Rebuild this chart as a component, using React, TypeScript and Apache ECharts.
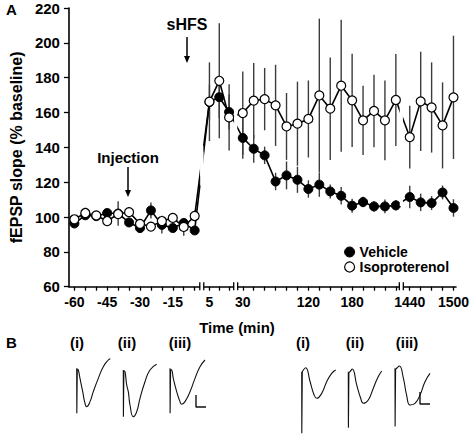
import { useEffect, useRef } from "react";
import * as echarts from "echarts";

// ---------- data ----------
const TIMES = [
  -60, -55, -50, -45, -40, -35, -30, -25, -20, -15, -10, -5,
  5, 10, 15,
  30, 45, 60, 75, 90, 105, 120, 135, 150, 165, 180, 195, 210, 225, 240,
  1440, 1455, 1470, 1485, 1500,
];
const VEHICLE_MEAN = [
  96.3, 101, 100.5, 102.3, 102, 96.9, 93.7, 103.8, 95.5, 93.7, 96.6, 92.3,
  166, 168.8, 160.3,
  145.4, 139.2, 135.4, 120.4, 123.9, 121.4, 116.1, 118.6, 114.7, 112.2, 106.5, 108.6, 106.1, 106.1, 106.7,
  111.5, 108.4, 108.0, 114.1, 105.2,
];
const VEHICLE_SEM = [
  2, 2, 2, 2, 7, 2, 2, 4.6, 5, 2, 2, 2,
  10, 12, 10,
  12, 8, 5, 5, 8, 7.5, 5, 7, 4, 5, 4, 3, 3, 4, 3,
  6.5, 5, 4, 4, 5,
];
const ISO_MEAN = [
  98.7, 102.3, 100.9, 97.7, 101.7, 102.8, 96.1, 94.5, 97.7, 99.5, 94.3, 100.6,
  166.2, 178.2, 157.2,
  159.7, 166.8, 167.7, 164.1, 152.0, 153.6, 156.3, 169.8, 162.2, 175.4, 167.0, 155.5, 160.9, 155.5, 167.2,
  145.9, 166.4, 162.9, 152.6, 168.7,
];
const ISO_SEM = [
  2, 3, 2, 2, 2, 3, 2, 2, 3, 2, 5, 3,
  22.6, 33, 19,
  23.9, 21.6, 17.9, 23.3, 19.2, 24.1, 22.1, 44.1, 29.4, 37.9, 26.8, 19.9, 20.8, 22.9, 26.4,
  18, 28.5, 25.9, 24.7, 35.4,
];
const X_TICK_TIMES = [
  -60, -55, -50, -45, -40, -35, -30, -25, -20, -15, -10, -5,
  5, 10, 15,
  30, 45, 60, 75, 90, 105, 120, 135, 150, 165, 180, 195, 210, 225, 240,
  1440, 1455, 1470, 1485, 1500,
];
const X_LABEL_TIMES = [-60, -45, -30, -15, 5, 30, 120, 180, 1440, 1500];
const Y_MIN = 60;
const Y_MAX = 220;
const Y_STEP = 20;

// Example fEPSP traces: [time (ms), potential (mV)]
const TRACE_ARTIFACTS = [
  [[0, 0.31], [0.05, -3.44], [0.3, 0.25]],
  [[0, 0.17], [0.05, -3.72], [0.3, 0.1]],
  [[0, 0.31], [0.05, -3.44], [0.3, 0.2]],
  [[0, 0.27], [0.05, -4.86], [0.3, 0.2]],
  [[0, 0.28], [0.05, -4.39], [0.3, 0.2]],
  [[0, 0.56], [0.05, -4.3], [0.3, 0.5]],
];
const TRACE_WAVES = [
  [[0.3, 0.25], [0.8, 0.17], [1.65, -0.53], [3, -1.64], [4.15, -2.61], [5, -2.89], [6.65, -2.47], [8.3, -1.64], [10.8, -0.53], [13.3, 0.44], [15.8, 1.0], [16.8, 1.1]],
  [[0.3, 0.1], [0.85, 0.03], [1.7, -1.08], [2.5, -1.64], [3.35, -2.75], [5, -3.72], [6.7, -3.31], [8.35, -2.19], [10.85, -0.81], [13.35, 0.17], [16.7, 0.64]],
  [[0.3, 0.2], [0.85, 0.17], [1.65, -0.53], [3.35, -1.64], [5, -2.47], [5.85, -2.69], [7.5, -2.47], [10, -1.64], [12.5, -0.53], [15, 0.44], [17.5, 1.0]],
  [[0.3, 0.2], [0.8, 0.42], [2, 0.61], [4.2, -0.56], [6.2, -1.67], [7.5, -1.94], [10, -1.53], [12.5, -0.56], [15, 0.14], [17, 0.42]],
  [[0.3, 0.2], [0.85, 0.28], [2, 0.5], [4.2, -0.83], [6.2, -1.94], [7.5, -2.36], [10, -2.08], [12.5, -1.1], [14.7, -0.22], [16.7, 0.33]],
  [[0.3, 0.5], [0.85, 0.56], [2.2, 0.75], [4.2, -0.28], [5.8, -1.67], [7.5, -2.5], [10, -2.36], [12.5, -1.67], [15, -0.56], [17.5, 0.14]],
];
const SCALE_MV = 1;
const SCALE_MS = 5;

// ---------- broken time axis ----------
const SEGMENTS = [
  { upTo: 0, t0: -60, d0: 0.5, perMin: 1 / 5 },
  { upTo: 25, t0: 5, d0: 12.85, perMin: 0.18 },
  { upTo: 1000, t0: 30, d0: 15.9, perMin: 1 / 15 },
  { upTo: Infinity, t0: 1440, d0: 31.17, perMin: 1 / 15 },
];
const BREAKS_D = [12.15, 15.25, 30.4];
const X_MAX_D = 35.4;

function toD(t: number): number {
  const s = SEGMENTS.find((g) => t < g.upTo)!;
  return s.d0 + (t - s.t0) * s.perMin;
}

const FONT = "'Liberation Sans', Arial, Helvetica, sans-serif";

export default function App() {
  const ref = useRef<HTMLDivElement>(null);

  useEffect(() => {
    const chart = echarts.init(ref.current!, undefined, { renderer: "svg" });

    const vehicle = TIMES.map((t, i) => [toD(t), VEHICLE_MEAN[i]]);
    const iso = TIMES.map((t, i) => [toD(t), ISO_MEAN[i]]);
    const errData = (m: number[], s: number[]) =>
      TIMES.map((t, i) => [toD(t), m[i] - s[i], m[i] + s[i]]);

    const errSeries = (data: number[][]) => ({
      type: "custom",
      xAxisIndex: 0,
      yAxisIndex: 0,
      silent: true,
      z: 1,
      encode: { x: 0, y: [1, 2] },
      renderItem: (_p: any, api: any) => {
        const a = api.coord([api.value(0), api.value(1)]);
        const b = api.coord([api.value(0), api.value(2)]);
        return {
          type: "line",
          shape: { x1: a[0], y1: a[1], x2: b[0], y2: b[1] },
          style: { stroke: "#3c3c3c", lineWidth: 1.4 },
        };
      },
      data,
    });

    const traceLayout = [
      { left: 76.7, top: 354 },
      { left: 123.3, top: 354 },
      { left: 170, top: 354 },
      { left: 301.7, top: 357 },
      { left: 348.3, top: 357 },
      { left: 395, top: 357 },
    ];
    const traceGrids = traceLayout.map((l) => ({ left: l.left, top: l.top, width: 38, height: 78 }));
    const traceX = traceLayout.map((_, k) => ({ type: "value", gridIndex: k + 1, min: 0, max: 19, show: false }));
    const traceY = traceLayout.map((_, k) => ({ type: "value", gridIndex: k + 1, min: -5, max: 1.5, show: false }));
    const traceStyle = { color: "#111", width: 1.1 };
    const traceSeries: any[] = [];
    traceLayout.forEach((_, k) => {
      traceSeries.push({
        type: "line", xAxisIndex: k + 1, yAxisIndex: k + 1, data: TRACE_ARTIFACTS[k],
        showSymbol: false, symbol: "none", lineStyle: traceStyle, silent: true,
      });
      traceSeries.push({
        type: "line", xAxisIndex: k + 1, yAxisIndex: k + 1, data: TRACE_WAVES[k], smooth: 0.5,
        showSymbol: false, symbol: "none", lineStyle: traceStyle, silent: true,
      });
    });
    const scaleBar = (k: number, t: number, v: number) => ({
      type: "line", xAxisIndex: k, yAxisIndex: k, showSymbol: false, symbol: "none", silent: true,
      data: [[t, v + SCALE_MV], [t, v], [t + SCALE_MS, v]],
      lineStyle: { color: "#111", width: 1.4 },
    });

    chart.setOption({
      animation: false,
      backgroundColor: "#fff",
      grid: [{ left: 60, top: 8, width: 398, height: 278.7 }, ...traceGrids],
      xAxis: [
        {
          type: "value", gridIndex: 0, min: 0, max: X_MAX_D,
          axisLine: { show: true, lineStyle: { color: "#000", width: 1.6 } },
          axisTick: {
            show: true, inside: false, length: 4, customValues: X_TICK_TIMES.map(toD),
            lineStyle: { color: "#000", width: 1.3 },
          },
          axisLabel: {
            customValues: X_LABEL_TIMES.map(toD), margin: 8,
            fontFamily: FONT, fontWeight: "bold", fontSize: 14, color: "#000",
            formatter: (v: number) => {
              const t = X_LABEL_TIMES.find((x) => Math.abs(toD(x) - v) < 1e-6);
              return t === undefined ? "" : String(t);
            },
          },
          splitLine: { show: false },
        },
        ...traceX,
      ],
      yAxis: [
        {
          type: "value", gridIndex: 0, min: Y_MIN, max: Y_MAX, interval: Y_STEP,
          name: "fEPSP slope (% baseline)", nameLocation: "middle", nameGap: 39,
          nameTextStyle: { fontFamily: FONT, fontWeight: "bold", fontSize: 16, color: "#000" },
          axisLine: { show: true, lineStyle: { color: "#000", width: 1.6 } },
          axisTick: { show: true, inside: false, length: 5, lineStyle: { color: "#000", width: 1.3 } },
          axisLabel: { margin: 9, fontFamily: FONT, fontWeight: "bold", fontSize: 15, color: "#000" },
          splitLine: { show: false },
        },
        ...traceY,
      ],
      legend: {
        orient: "vertical", left: 339, top: 240, itemWidth: 10, itemHeight: 10, itemGap: 1,
        icon: "circle", selectedMode: false,
        textStyle: { fontFamily: FONT, fontWeight: "bold", fontSize: 14, color: "#000" },
        data: [
          { name: "Vehicle", itemStyle: { color: "#000", borderColor: "#000", borderWidth: 1 } },
          { name: "Isoproterenol", itemStyle: { color: "#fff", borderColor: "#000", borderWidth: 1.2 } },
        ],
      },
      series: [
        errSeries(errData(VEHICLE_MEAN, VEHICLE_SEM)),
        errSeries(errData(ISO_MEAN, ISO_SEM)),
        {
          name: "Vehicle", type: "line", xAxisIndex: 0, yAxisIndex: 0, data: vehicle, z: 3,
          symbol: "circle", symbolSize: 9,
          lineStyle: { color: "#000", width: 1.6 },
          itemStyle: { color: "#000", borderColor: "#000", borderWidth: 1 },
        },
        {
          name: "Isoproterenol", type: "line", xAxisIndex: 0, yAxisIndex: 0, data: iso, z: 4,
          symbol: "circle", symbolSize: 9,
          lineStyle: { color: "#000", width: 1.6 },
          itemStyle: { color: "#fff", borderColor: "#000", borderWidth: 1.2 },
        },
        ...traceSeries,
        scaleBar(3, 13, -2.92),
        scaleBar(6, 12.5, -2.42),
      ],
    });

    // Break marks on the time axis, and gaps where the lines cross a break
    const px = (d: number, v: number) => chart.convertToPixel({ gridIndex: 0 }, [d, v]) as number[];
    const yAxisPx = px(0, Y_MIN)[1];
    const breakEls: any[] = [];
    BREAKS_D.forEach((d) => {
      const bx = px(d, Y_MIN)[0];
      [VEHICLE_MEAN, ISO_MEAN].forEach((means) => {
        const i = TIMES.findIndex((t, j) => j < TIMES.length - 1 && toD(t) < d && toD(TIMES[j + 1]) > d);
        if (i < 0) return;
        const a = px(toD(TIMES[i]), means[i]);
        const b = px(toD(TIMES[i + 1]), means[i + 1]);
        const slope = (b[1] - a[1]) / (b[0] - a[0]);
        const yc = a[1] + slope * (bx - a[0]);
        const h = Math.abs(slope) * 3.2 + 6;
        breakEls.push({
          type: "rect", z: 100, silent: true,
          shape: { x: bx - 1.6, y: yc - h / 2, width: 3.2, height: h },
          style: { fill: "#fff" },
        });
      });
      breakEls.push({
        type: "rect", z: 100, silent: true,
        shape: { x: bx - 1.6, y: yAxisPx - 2, width: 3.2, height: 4 },
        style: { fill: "#fff" },
      });
      [-2, 2].forEach((o) =>
        breakEls.push({
          type: "line", z: 101, silent: true,
          shape: { x1: bx + o, y1: yAxisPx - 4.5, x2: bx + o, y2: yAxisPx + 3.5 },
          style: { stroke: "#000", lineWidth: 1.3 },
        })
      );
    });

    const txt = (text: string, x: number, y: number, size = 14, align = "center") => ({
      type: "text", z: 110, silent: true, x, y,
      style: {
        text, fontFamily: FONT, fontWeight: "bold", fontSize: size, fill: "#000",
        align, verticalAlign: "middle",
      },
    });
    const arrow = (x: number, y1: number, y2: number) => [
      { type: "line", z: 110, silent: true, shape: { x1: x, y1, x2: x, y2: y2 - 5 }, style: { stroke: "#000", lineWidth: 1.5 } },
      {
        type: "polygon", z: 110, silent: true,
        shape: { points: [[x - 3, y2 - 7], [x + 3, y2 - 7], [x, y2]] },
        style: { fill: "#000" },
      },
    ];

    chart.setOption({
      graphic: [
        ...breakEls,
        txt("A", 6, 9, 15, "left"),
        txt("B", 6, 342, 15, "left"),
        txt("sHFS", 187, 24, 16),
        ...arrow(187, 37, 63),
        txt("Injection", 128, 157, 15),
        ...arrow(128, 167, 197),
        txt("Time (min)", 237, 327, 15),
        txt("(i)", 77, 342, 15),
        txt("(ii)", 127, 342, 15),
        txt("(iii)", 180, 342, 15),
        txt("(i)", 303, 342, 15),
        txt("(ii)", 355, 342, 15),
        txt("(iii)", 407, 342, 15),
      ],
    });

    return () => chart.dispose();
  }, []);

  return (
    <div
      ref={ref}
      style={{ position: "absolute", left: 0, top: 0, width: 472, height: 435, background: "#fff" }}
    />
  );
}
